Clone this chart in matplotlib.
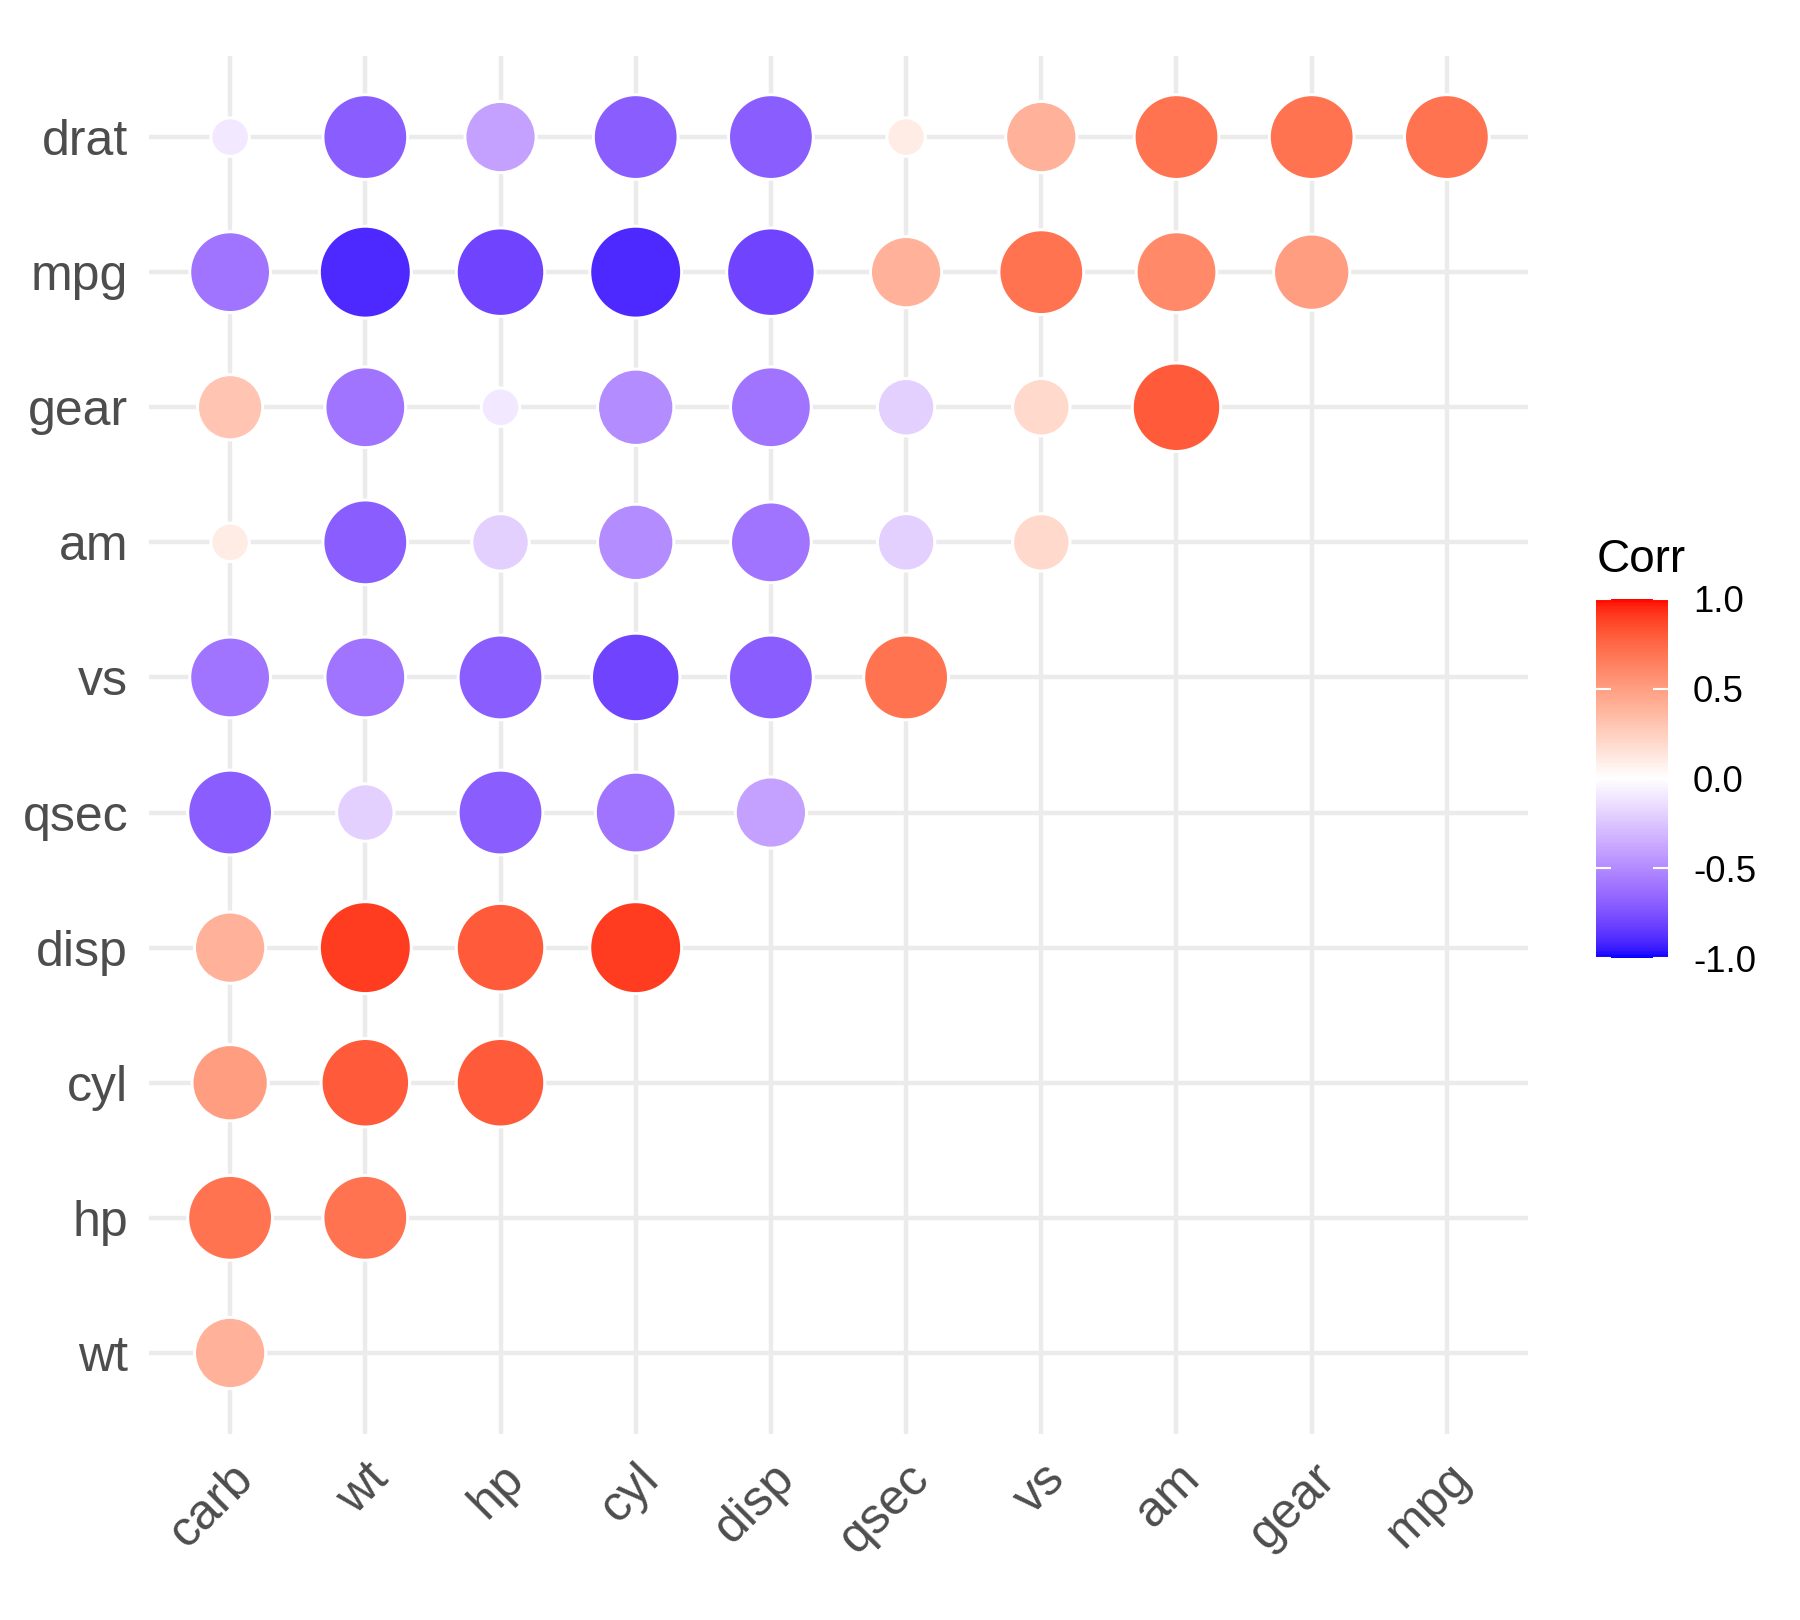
import numpy as np
import matplotlib
matplotlib.use('Agg')
import matplotlib.pyplot as plt
from matplotlib.colors import ListedColormap

plt.rcParams['font.family'] = ['Liberation Sans', 'DejaVu Sans']

# variables in clustered order
x_labels = ['carb', 'wt', 'hp', 'cyl', 'disp', 'qsec', 'vs', 'am', 'gear', 'mpg']
y_labels = ['wt', 'hp', 'cyl', 'disp', 'qsec', 'vs', 'am', 'gear', 'mpg', 'drat']  # bottom to top

# lower triangle, one list per row (values for the x variables left to right)
corr_wt = [0.4]
corr_hp = [0.7, 0.7]
corr_cyl = [0.5, 0.8, 0.8]
corr_disp = [0.4, 0.9, 0.8, 0.9]
corr_qsec = [-0.7, -0.2, -0.7, -0.6, -0.4]
corr_vs = [-0.6, -0.6, -0.7, -0.8, -0.7, 0.7]
corr_am = [0.1, -0.7, -0.2, -0.5, -0.6, -0.2, 0.2]
corr_gear = [0.3, -0.6, -0.1, -0.5, -0.6, -0.2, 0.2, 0.8]
corr_mpg = [-0.6, -0.9, -0.8, -0.9, -0.8, 0.4, 0.7, 0.6, 0.5]
corr_drat = [-0.1, -0.7, -0.4, -0.7, -0.7, 0.1, 0.4, 0.7, 0.7, 0.7]

rows = [corr_wt, corr_hp, corr_cyl, corr_disp, corr_qsec,
        corr_vs, corr_am, corr_gear, corr_mpg, corr_drat]


# --- blue / white / red gradient interpolated in CIELAB (like ggplot's gradient2)
WHITE = np.array([0.95047, 1.0, 1.08883])
M = np.array([[0.4124564, 0.3575761, 0.1804375],
              [0.2126729, 0.7151522, 0.0721750],
              [0.0193339, 0.1191920, 0.9503041]])


def rgb_to_lab(rgb):
    c = np.asarray(rgb, dtype=float)
    lin = np.where(c <= 0.04045, c / 12.92, ((c + 0.055) / 1.055) ** 2.4)
    xyz = M @ lin / WHITE
    d = 6 / 29
    f = np.where(xyz > d ** 3, np.cbrt(xyz), xyz / (3 * d ** 2) + 4 / 29)
    return np.array([116 * f[1] - 16, 500 * (f[0] - f[1]), 200 * (f[1] - f[2])])


def lab_to_rgb(lab):
    L, a, b = lab
    fy = (L + 16) / 116
    fx = fy + a / 500
    fz = fy - b / 200
    d = 6 / 29
    f = np.array([fx, fy, fz])
    xyz = np.where(f > d, f ** 3, 3 * d ** 2 * (f - 4 / 29)) * WHITE
    lin = np.linalg.solve(M, xyz)
    lin = np.clip(lin, 0, 1)
    c = np.where(lin <= 0.0031308, 12.92 * lin, 1.055 * lin ** (1 / 2.4) - 0.055)
    return np.clip(c, 0, 1)


low, mid, high = rgb_to_lab([0, 0, 1]), rgb_to_lab([1, 1, 1]), rgb_to_lab([1, 0, 0])
colors = []
for t in np.linspace(0, 1, 256):
    if t < 0.5:
        lab = low + (mid - low) * (t / 0.5)
    else:
        lab = mid + (high - mid) * ((t - 0.5) / 0.5)
    colors.append(lab_to_rgb(lab))
cmap = ListedColormap(colors)

# --- points
xs, ys, vals = [], [], []
for j, row in enumerate(rows):
    for i, v in enumerate(row):
        xs.append(i)
        ys.append(j)
        vals.append(v)
xs, ys, vals = np.array(xs), np.array(ys), np.array(vals)

# size scale: area between size 4 and 10 over the data range of |corr|
a = np.abs(vals)
size = 4 + 6 * np.sqrt((a - a.min()) / (a.max() - a.min()))
diam_pt = 0.75 * (size * 72.27 / 25.4 + 0.945)
stroke_pt = 0.945 * 72 / 96

fig = plt.figure(figsize=(6, 5.4), dpi=300)
ax = fig.add_axes([149 / 1800, 1 - 1434 / 1620, 1379 / 1800, 1378 / 1620])

sc = ax.scatter(xs, ys, s=diam_pt ** 2, c=vals, cmap=cmap, vmin=-1, vmax=1,
                edgecolors='white', linewidths=stroke_pt, zorder=3)

ax.set_xlim(-0.6, len(x_labels) - 0.4)
ax.set_ylim(-0.6, len(y_labels) - 0.4)
ax.set_xticks(range(len(x_labels)))
ax.set_yticks(range(len(y_labels)))
ax.set_xticklabels(x_labels, rotation=45, ha='right', va='top', rotation_mode='anchor')
ax.set_yticklabels(y_labels)
ax.tick_params(length=0, labelsize=12, labelcolor='#4D4D4D', pad=5)
ax.grid(True, color='#EBEBEB', linewidth=1.06, zorder=0)
ax.set_axisbelow(True)
for s in ax.spines.values():
    s.set_visible(False)

# --- colour bar legend
cax = fig.add_axes([1596 / 1800, 1 - 958 / 1620, 72 / 1800, 359 / 1620])
cb = fig.colorbar(sc, cax=cax, ticks=[-1, -0.5, 0, 0.5, 1])
cb.outline.set_visible(False)
cb.ax.set_yticklabels(['-1.0', '-0.5', '0.0', '0.5', '1.0'])
cax.yaxis.set_ticks_position('both')
cax.tick_params(direction='in', length=3.6, width=0.5, color='white',
                labelsize=8.8, labelcolor='black', pad=6, labelleft=False, labelright=True)
fig.text(1597 / 1800, 1 - 572 / 1620, 'Corr', fontsize=11, color='black',
         ha='left', va='baseline')

fig.savefig('out.png', dpi=300, facecolor='white')
